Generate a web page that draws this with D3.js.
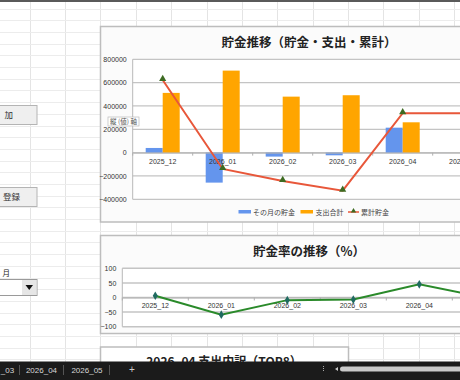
<!DOCTYPE html>
<html><head><meta charset="utf-8">
<script src="https://cdn.jsdelivr.net/npm/d3@7"></script>
<style>
html,body{margin:0;padding:0;background:#fff;overflow:hidden}
svg{display:block}
text{font-family:"Liberation Sans","Noto Sans CJK JP",sans-serif}
.jp{font-family:"Noto Sans CJK JP",sans-serif}
</style></head><body>
<script>
const categories = ['2025_12','2026_01','2026_02','2026_03','2026_04','2026_05'];
const monthlySavings = [40000, -257000, -34000, -23000, 214000, 0];
const totalSpending = [512000, 703000, 480000, 492000, 260000, 0];
const cumulativeSavings = [623000, -140000, -243000, -326000, 338000, 338000];
const savingsRate = [6, -59, -9, -7, 45, 0];
const yTicks1 = [-400000, -200000, 0, 200000, 400000, 600000, 800000];
const yTicks2 = [-100, -50, 0, 50, 100];
const seriesNames = ['その月の貯金', '支出合計', '累計貯金'];
const sheetTabs = ['_03', '2026_04', '2026_05'];

const W = 460, H = 380;
const svg = d3.select('body').append('svg').attr('width', W).attr('height', H);

// spreadsheet grid
const grid = svg.append('g');
for (let x = 29.5; x < W; x += 35.4) grid.append('line').attr('x1', Math.round(x)+0.5).attr('x2', Math.round(x)+0.5).attr('y1', 2).attr('y2', H).attr('stroke', '#e4e4e4');
for (let y = 8.5; y < H; y += 11.7) grid.append('line').attr('x1', 0).attr('x2', W).attr('y1', Math.round(y)+0.5).attr('y2', Math.round(y)+0.5).attr('stroke', '#ececec');
svg.append('rect').attr('x', 0).attr('y', 0).attr('width', W).attr('height', 2).attr('fill', '#5a5a5a');

// buttons
function button(y, h, label, startX) {
  svg.append('rect').attr('x', -2).attr('y', y).attr('width', 39).attr('height', h).attr('fill', '#efefef').attr('stroke', '#b4b4b4');
  svg.append('text').attr('class', 'jp').attr('x', startX).attr('y', y + h/2 + 3).attr('font-size', 8.5).attr('fill', '#333').text(label);
}
button(105.5, 19, '加', 4.5);
button(187.5, 19, '登録', 3);
svg.append('text').attr('class', 'jp').attr('x', 2.5).attr('y', 276).attr('font-size', 7.5).attr('fill', '#222').text('月');
svg.append('rect').attr('x', -2).attr('y', 279.5).attr('width', 39).attr('height', 16).attr('fill', '#fff').attr('stroke', '#9a9a9a');
svg.append('rect').attr('x', 22).attr('y', 280).attr('width', 14.5).attr('height', 15).attr('fill', '#e6e6e6');
svg.append('path').attr('d', 'M25.5,285 L33,285 L29.25,290 Z').attr('fill', '#111');

// ---------- Chart 1 ----------
const c1 = svg.append('g');
c1.append('rect').attr('x', 100.5).attr('y', 26.5).attr('width', 420).attr('height', 195.5).attr('fill', '#fbfbfb').attr('stroke', '#bdbdbd').attr('stroke-width', 1.5);
c1.append('text').attr('class', 'jp').attr('x', 309).attr('y', 47).attr('text-anchor', 'middle').attr('font-size', 12.5).attr('font-weight', 'bold').attr('fill', '#222').text('貯金推移（貯金・支出・累計）');

const x1 = d3.scaleBand().domain(categories).range([132.7, 492.7]);
const xs1 = d3.scaleBand().domain([seriesNames[0], seriesNames[1]]).range([13, 47]);
const y1 = d3.scaleLinear().domain([-400000, 800000]).range([199.3, 59.3]);

c1.append('rect').attr('x', 132.7).attr('y', 59.3).attr('width', 380).attr('height', 140).attr('fill', '#fff');
c1.append('g').selectAll('line').data(yTicks1).join('line')
  .attr('x1', 132.7).attr('x2', 520).attr('y1', d => y1(d)).attr('y2', d => y1(d))
  .attr('stroke', '#c4c4c4').attr('stroke-width', 1.3);
c1.append('line').attr('x1', 132.7).attr('x2', 132.7).attr('y1', 59.3).attr('y2', 199.3).attr('stroke', '#b8b8b8');

const ya1 = c1.append('g').attr('transform', 'translate(132.7,0)')
  .call(d3.axisLeft(y1).tickValues(yTicks1).tickSize(0).tickPadding(6).tickFormat(d3.format('d')));
ya1.select('.domain').remove();
ya1.selectAll('text').attr('font-size', 7).attr('fill', '#333');

// bars
c1.append('g').selectAll('rect').data(categories).join('rect')
  .attr('x', d => x1(d) + xs1(seriesNames[0])).attr('width', xs1.bandwidth())
  .attr('y', (d, i) => Math.min(y1(monthlySavings[i]), y1(0)))
  .attr('height', (d, i) => Math.abs(y1(monthlySavings[i]) - y1(0)))
  .attr('fill', '#6495ED');
c1.append('g').selectAll('rect').data(categories).join('rect')
  .attr('x', d => x1(d) + xs1(seriesNames[1])).attr('width', xs1.bandwidth())
  .attr('y', (d, i) => Math.min(y1(totalSpending[i]), y1(0)))
  .attr('height', (d, i) => Math.abs(y1(totalSpending[i]) - y1(0)))
  .attr('fill', '#FFA500');

// x axis at 0
const xa1 = c1.append('g').attr('transform', `translate(0,${y1(0)})`)
  .call(d3.axisBottom(x1).tickSize(0).tickPadding(6));
xa1.select('.domain').attr('stroke', '#b0b0b0');
xa1.selectAll('text').attr('font-size', 7).attr('fill', '#333');
c1.append('g').selectAll('line').data(categories).join('line')
  .attr('x1', d => x1(d)).attr('x2', d => x1(d)).attr('y1', y1(0)).attr('y2', y1(0) + 3)
  .attr('stroke', '#b0b0b0');

// cumulative line
const line1 = d3.line().x((d, i) => x1(categories[i]) + x1.bandwidth()/2).y(d => y1(d));
c1.append('path').datum(cumulativeSavings).attr('d', line1).attr('fill', 'none').attr('stroke', '#E8573A').attr('stroke-width', 2);
const tri = d3.symbol().type(d3.symbolTriangle).size(22);
c1.append('g').selectAll('path').data(cumulativeSavings.slice(0, 5)).join('path')
  .attr('d', tri).attr('transform', (d, i) => `translate(${x1(categories[i]) + x1.bandwidth()/2},${y1(d) - 1})`)
  .attr('fill', '#3d6b22');

// axis tooltip
c1.append('rect').attr('x', 108).attr('y', 117).attr('width', 31).attr('height', 9).attr('fill', '#fff').attr('stroke', '#bbb').attr('stroke-width', 0.7);
c1.append('text').attr('class', 'jp').attr('x', 123.5).attr('y', 124).attr('text-anchor', 'middle').attr('font-size', 6.5).attr('fill', '#555').text('縦 (値) 軸');

// legend
const lg = c1.append('g').attr('class', 'jp');
lg.append('rect').attr('x', 238.5).attr('y', 210).attr('width', 12.5).attr('height', 3.5).attr('fill', '#6495ED');
lg.append('text').attr('x', 253).attr('y', 214.5).attr('font-size', 7).attr('fill', '#444').text(seriesNames[0]);
lg.append('rect').attr('x', 300.5).attr('y', 210).attr('width', 12.5).attr('height', 3.5).attr('fill', '#FFA500');
lg.append('text').attr('x', 315.5).attr('y', 214.5).attr('font-size', 7).attr('fill', '#444').text(seriesNames[1]);
lg.append('line').attr('x1', 348).attr('x2', 359).attr('y1', 212).attr('y2', 212).attr('stroke', '#E8573A').attr('stroke-width', 1.5);
lg.append('path').attr('d', d3.symbol().type(d3.symbolTriangle).size(12)).attr('transform', 'translate(353.5,211)').attr('fill', '#3d6b22');
lg.append('text').attr('x', 361).attr('y', 214.5).attr('font-size', 7).attr('fill', '#444').text(seriesNames[2]);

// ---------- Chart 2 ----------
const c2 = svg.append('g');
c2.append('rect').attr('x', 100.5).attr('y', 235.5).attr('width', 420).attr('height', 98).attr('fill', '#fbfbfb').attr('stroke', '#bdbdbd').attr('stroke-width', 1.5);
c2.append('text').attr('class', 'jp').attr('x', 309).attr('y', 255.5).attr('text-anchor', 'middle').attr('font-size', 12.5).attr('font-weight', 'bold').attr('fill', '#222').text('貯金率の推移（%）');

const x2 = d3.scaleBand().domain(categories).range([122.3, 518.3]);
const y2 = d3.scaleLinear().domain([-100, 100]).range([326.7, 268.3]);
c2.append('rect').attr('x', 122.3).attr('y', 268.3).attr('width', 396).attr('height', 58.4).attr('fill', '#fff');
c2.append('g').selectAll('line').data(yTicks2).join('line')
  .attr('x1', 122.3).attr('x2', 520).attr('y1', d => y2(d)).attr('y2', d => y2(d))
  .attr('stroke', '#c4c4c4').attr('stroke-width', 1.5);
c2.append('line').attr('x1', 122.3).attr('x2', 122.3).attr('y1', 268.3).attr('y2', 326.7).attr('stroke', '#b8b8b8');
const ya2 = c2.append('g').attr('transform', 'translate(122.3,0)')
  .call(d3.axisLeft(y2).tickValues(yTicks2).tickSize(0).tickPadding(6));
ya2.select('.domain').remove();
ya2.selectAll('text').attr('font-size', 7).attr('fill', '#333');
// only the categories whose labels fall inside the visible window
const visibleCats2 = categories.filter(c => x2(c) + x2.bandwidth() <= W);
const xa2 = c2.append('g').attr('transform', `translate(0,${y2(0)})`)
  .call(d3.axisBottom(x2).tickValues(visibleCats2).tickSize(0).tickPadding(5.5));
xa2.select('.domain').attr('stroke', '#b0b0b0');
xa2.selectAll('text').attr('font-size', 7).attr('fill', '#333');
c2.append('g').selectAll('line').data(categories).join('line')
  .attr('x1', d => x2(d)).attr('x2', d => x2(d)).attr('y1', y2(0)).attr('y2', y2(0) + 3)
  .attr('stroke', '#b0b0b0');
const line2 = d3.line().x((d, i) => x2(categories[i]) + x2.bandwidth()/2).y(d => y2(d));
c2.append('path').datum(savingsRate).attr('d', line2).attr('fill', 'none').attr('stroke', '#2a8a2a').attr('stroke-width', 2);
c2.append('g').selectAll('path').data(savingsRate).join('path')
  .attr('d', d3.symbol().type(d3.symbolDiamond).size(22))
  .attr('transform', (d, i) => `translate(${x2(categories[i]) + x2.bandwidth()/2},${y2(d)})`)
  .attr('fill', '#1f6a60');

// ---------- Chart 3 (partially visible) ----------
svg.append('rect').attr('x', 100.5).attr('y', 347).attr('width', 248).attr('height', 40).attr('fill', '#fff').attr('stroke', '#bdbdbd').attr('stroke-width', 1.5);
svg.append('text').attr('class', 'jp').attr('x', 224).attr('y', 366).attr('text-anchor', 'middle').attr('font-size', 12).attr('font-weight', 'bold').attr('fill', '#222').text('2026_04 支出内訳（TOP8）');

// sheet tab bar
svg.append('rect').attr('x', 0).attr('y', 361.5).attr('width', W).attr('height', 19).attr('fill', '#1b1b1b');
const tabX = [7.5, 41.5, 87];
svg.append('g').selectAll('text').data(sheetTabs).join('text')
  .attr('x', (d, i) => tabX[i]).attr('y', 372.5).attr('text-anchor', 'middle')
  .attr('font-size', 8).attr('fill', '#d8d8d8').text(d => d);
[19.5, 63.5, 109.5].forEach(x => svg.append('line').attr('x1', x).attr('x2', x).attr('y1', 365).attr('y2', 375).attr('stroke', '#555'));
svg.append('text').attr('x', 132).attr('y', 373).attr('text-anchor', 'middle').attr('font-size', 10).attr('fill', '#ccc').text('+');
svg.append('line').attr('x1', 323.5).attr('x2', 323.5).attr('y1', 366).attr('y2', 372).attr('stroke', '#aaa').attr('stroke-dasharray', '1,1');
svg.append('path').attr('d', 'M335,369 L338,367 L338,371 Z').attr('fill', '#ccc');
svg.append('rect').attr('x', 340).attr('y', 366.5).attr('width', 130).attr('height', 5).attr('rx', 2.5).attr('fill', '#c9c9c9');
</script>
</body></html>
